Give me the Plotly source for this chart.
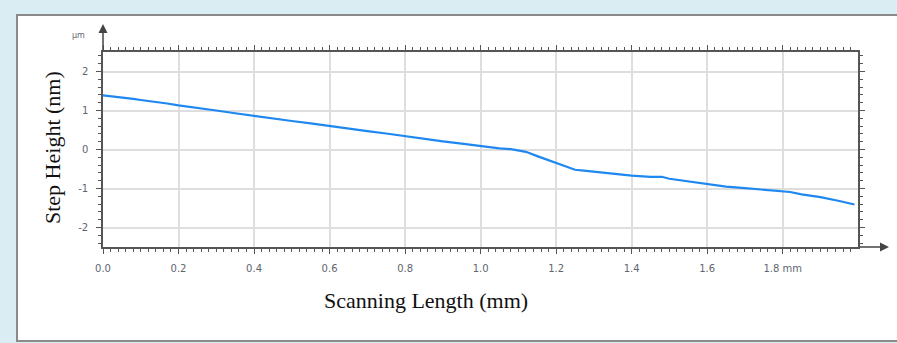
import plotly.graph_objects as go

# Data (scan position in mm, height in µm)
scan_mm = [0.00, 0.02, 0.05, 0.08, 0.10, 0.13, 0.15, 0.17, 0.20, 0.25, 0.30, 0.35, 0.40,
           0.45, 0.50, 0.55, 0.60, 0.65, 0.70, 0.75, 0.80, 0.85, 0.90, 0.95, 1.00,
           1.03, 1.05, 1.08, 1.10, 1.12, 1.15, 1.18, 1.20, 1.22, 1.25, 1.28, 1.30,
           1.35, 1.40, 1.45, 1.47, 1.48, 1.50, 1.55, 1.60, 1.65, 1.70, 1.75, 1.80,
           1.82, 1.85, 1.90, 1.95, 1.99]
height_um = [1.39, 1.37, 1.33, 1.30, 1.27, 1.23, 1.22, 1.18, 1.13, 1.07, 1.00, 0.93, 0.86,
             0.80, 0.73, 0.67, 0.60, 0.54, 0.47, 0.41, 0.34, 0.28, 0.21, 0.15, 0.09,
             0.05, 0.03, 0.01, -0.02, -0.06, -0.17, -0.28, -0.34, -0.42, -0.52, -0.55, -0.57,
             -0.62, -0.67, -0.70, -0.69, -0.70, -0.75, -0.82, -0.89, -0.95, -0.99, -1.03, -1.06,
             -1.09, -1.15, -1.22, -1.32, -1.41]

x_tick_vals = [0.0, 0.2, 0.4, 0.6, 0.8, 1.0, 1.2, 1.4, 1.6, 1.8]
x_tick_text = ["0.0", "0.2", "0.4", "0.6", "0.8", "1.0", "1.2", "1.4", "1.6", "1.8 mm"]
y_tick_vals = [-2, -1, 0, 1, 2]
y_tick_text = ["-2", "-1", "0", "1", "2"]

x_title = "Scanning Length (mm)"
y_title = "Step Height (nm)"
y_unit = "µm"

W, H = 897, 343
L, R, T, B = 103, 858, 52, 247

fig = go.Figure()
fig.add_trace(go.Scatter(x=scan_mm, y=height_um, mode="lines",
                         line=dict(color="#1e88f0", width=2.2), hoverinfo="skip"))

axis_common = dict(
    showline=True, linecolor="#555555", linewidth=1.5, mirror="allticks",
    ticks="outside", tickcolor="#555555", tickwidth=1, ticklen=5,
    showgrid=True, gridcolor="#dedede", gridwidth=1.5,
    tickfont=dict(family="DejaVu Sans", size=10, color="#5f6670"),
    zeroline=False, fixedrange=True,
)

fig.update_xaxes(range=[0, (R - L) / 377.6], tickmode="array", tickvals=x_tick_vals,
                 ticktext=x_tick_text,
                 minor=dict(dtick=0.02, tick0=0, ticks="outside", ticklen=3,
                            tickcolor="#555555", showgrid=False),
                 ticklabelstandoff=6, **axis_common)
fig.update_yaxes(range=[-2.5, 2.5], tickmode="array", tickvals=y_tick_vals,
                 ticktext=y_tick_text,
                 minor=dict(dtick=0.2, tick0=0, ticks="outside", ticklen=3,
                            tickcolor="#555555", showgrid=False),
                 ticklabelstandoff=6, **axis_common)

# zero line
fig.add_hline(y=0, line=dict(color="#555555", width=1.5), layer="below")

shapes = [
    dict(type="rect", xref="paper", yref="paper", layer="below",
         x0=(17 - L) / (R - L), x1=(W + 5 - L) / (R - L),
         y0=(B - 341) / (B - T), y1=(B - 15) / (B - T),
         fillcolor="white", line=dict(color="#8a8a8a", width=2)),
]

annotations = [
    # y-axis arrow
    dict(xref="paper", yref="paper", x=0, y=(B - 24) / (B - T), ax=0, ay=28,
         axref="pixel", ayref="pixel", showarrow=True, arrowhead=2, arrowsize=1.2,
         arrowwidth=1.5, arrowcolor="#444444", text=""),
    # x-axis arrow
    dict(xref="paper", yref="paper", x=(889 - L) / (R - L), y=0, ax=-31, ay=0,
         axref="pixel", ayref="pixel", showarrow=True, arrowhead=2, arrowsize=1.2,
         arrowwidth=1.5, arrowcolor="#444444", text=""),
    dict(xref="paper", yref="paper", x=(78 - L) / (R - L), y=(B - 35) / (B - T),
         text=y_unit, showarrow=False, xanchor="center", yanchor="middle",
         font=dict(family="DejaVu Sans", size=8, color="#5f6670")),
    dict(xref="paper", yref="paper", x=(426 - L) / (R - L), y=(B - 300) / (B - T),
         text=x_title, showarrow=False, xanchor="center", yanchor="middle",
         font=dict(family="Liberation Serif", size=22, color="#111111")),
    dict(xref="paper", yref="paper", x=(52 - L) / (R - L), y=(B - 148) / (B - T),
         text=y_title, showarrow=False, textangle=-90, xanchor="center", yanchor="middle",
         font=dict(family="Liberation Serif", size=22, color="#111111")),
]

fig.update_layout(
    width=W, height=H,
    margin=dict(l=L, r=W - R, t=T, b=H - B),
    paper_bgcolor="#d9edf3", plot_bgcolor="white",
    showlegend=False, shapes=shapes, annotations=annotations,
)

fig.write_html("out.html")
